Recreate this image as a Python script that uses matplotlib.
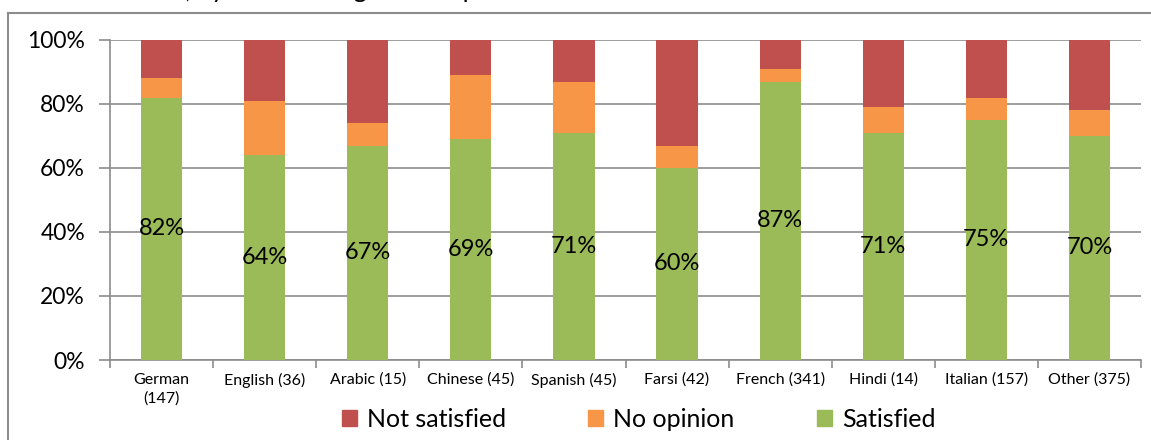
import matplotlib
matplotlib.use('Agg')
import matplotlib.pyplot as plt
from matplotlib.lines import Line2D
from matplotlib.patches import Patch
import numpy as np

plt.rcParams['font.family'] = ['Lato', 'DejaVu Sans']

# data -----------------------------------------------------------------------
languages = ['German\n(147)', 'English (36)', 'Arabic (15)', 'Chinese (45)', 'Spanish (45)',
             'Farsi (42)', 'French (341)', 'Hindi (14)', 'Italian (157)', 'Other (375)']
satisfied = [0.82, 0.64, 0.67, 0.69, 0.71, 0.60, 0.87, 0.71, 0.75, 0.70]
no_opinion = [0.06, 0.17, 0.07, 0.20, 0.16, 0.07, 0.04, 0.08, 0.07, 0.08]
not_satisfied = [0.12, 0.19, 0.26, 0.11, 0.13, 0.33, 0.09, 0.21, 0.18, 0.22]

green = '#9BBB59'
orange = '#F79646'
red = '#C0504D'
grid_col = '#8C8C8C'

fig = plt.figure(figsize=(11.51, 4.4), dpi=100)
ax = fig.add_axes([110/1151, 80/440, 1031/1151, 320/440])

x = np.arange(len(languages))
sat = np.array(satisfied)
nop = np.array(no_opinion)
nsat = np.array(not_satisfied)

ax.bar(x, sat, width=0.4, color=green, zorder=3)
ax.bar(x, nop, width=0.4, bottom=sat, color=orange, zorder=3)
ax.bar(x, nsat, width=0.4, bottom=sat + nop, color=red, zorder=3)

for i, v in enumerate(satisfied):
    ax.text(x[i], v / 2, '%d%%' % round(v * 100), ha='center', va='center',
            fontsize=17, color='black', zorder=4)

ax.set_xlim(-0.5, len(languages) - 0.5)
ax.set_ylim(0, 1)
ax.set_yticks(np.arange(0, 1.01, 0.2))
ax.set_yticklabels(['%d%%' % (t * 100) for t in np.arange(0, 1.01, 0.2)], fontsize=16.5)
ax.yaxis.grid(True, color=grid_col, linewidth=1.2, zorder=0)

# category ticks sit between bars
ax.set_xticks(np.arange(-0.5, len(languages), 1.0))
ax.set_xticklabels([])
ax.set_xticks(x, minor=True)
ax.set_xticklabels(languages, minor=True, fontsize=11.5, linespacing=1.45)
ax.tick_params(axis='x', which='minor', length=0, pad=9)
ax.tick_params(axis='x', which='major', length=6, color=grid_col, width=1.2)
ax.tick_params(axis='y', length=8, color=grid_col, width=1.2, pad=10)

for s in ['top', 'right']:
    ax.spines[s].set_visible(False)
for s in ['left', 'bottom']:
    ax.spines[s].set_color(grid_col)
    ax.spines[s].set_linewidth(1.2)

handles = [Patch(color=red, label='Not satisfied'),
           Patch(color=orange, label='No opinion'),
           Patch(color=green, label='Satisfied')]
fig.legend(handles=handles, loc='center', bbox_to_anchor=(0.555, 21/440), ncol=3,
           frameon=False, fontsize=18, handlelength=0.6, handleheight=0.6,
           handletextpad=0.4, columnspacing=3.3)

# outer chart frame
fx = 8/1151
fy = 1 - 13/440
fig.add_artist(Line2D([fx, fx], [0, fy], color=grid_col, linewidth=1.5))
fig.add_artist(Line2D([fx, 1], [fy, fy], color=grid_col, linewidth=1.5))

# title, mostly cut off at the top edge
fig.text(58/1151, 1 + 2/440, 'Satisfaction, by mother tongue of respondents',
         fontsize=18, ha='left', va='baseline')

fig.savefig('out.png', dpi=100)
